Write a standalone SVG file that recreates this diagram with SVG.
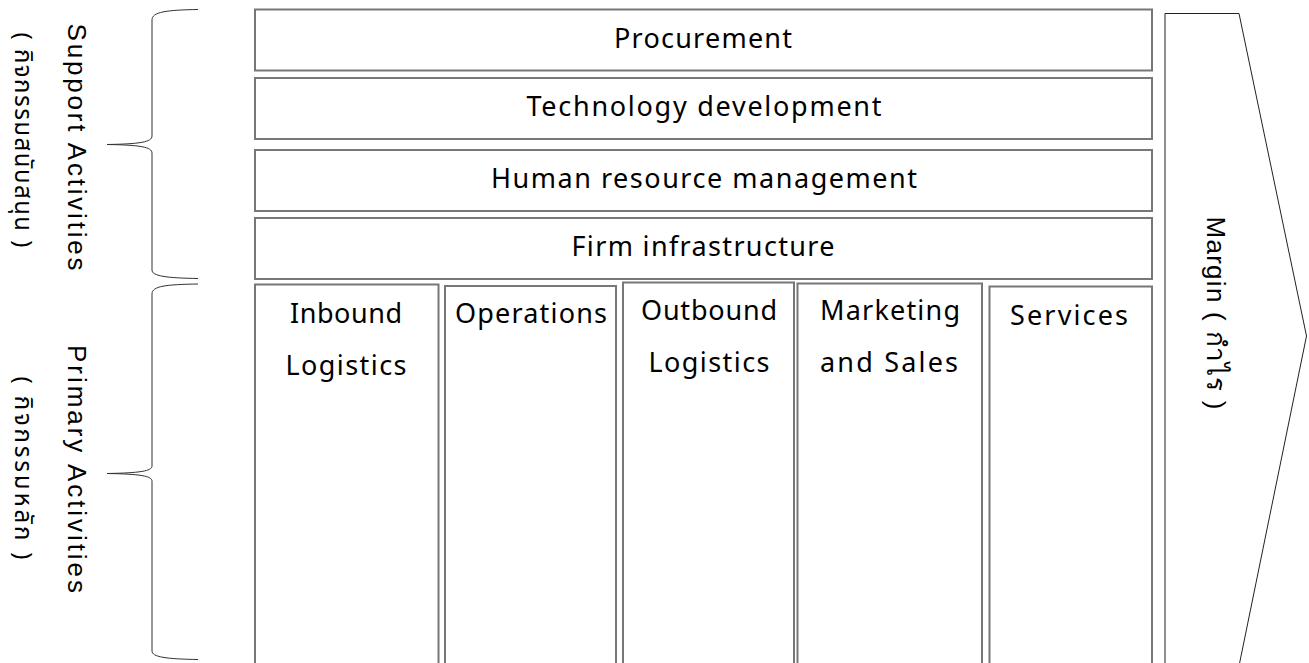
<svg xmlns="http://www.w3.org/2000/svg" width="1309" height="663" viewBox="0 0 1309 663">
<style>
.box{fill:#fff;stroke:#777;stroke-width:2}
.brace{fill:none;stroke:#333;stroke-width:1}
.lbl{font-family:"Noto Sans","Open Sans","DejaVu Sans",sans-serif;font-size:27px;fill:#000;text-anchor:middle}
.side{font-family:"Liberation Sans","Noto Sans",sans-serif;font-size:26px;fill:#000;text-anchor:middle}
.thai{font-family:"Noto Sans Thai","Noto Sans","DejaVu Sans",sans-serif;font-size:24px;fill:#000;text-anchor:middle}
.margin{fill:#fff;stroke:#222;stroke-width:1}
</style>
<rect width="1309" height="663" fill="#fff"/>
<g id="margin">
<polygon class="margin" points="1165,13.5 1239,13.5 1306.5,336 1239,666 1165,666"/>
<text class="side" font-size="24" transform="translate(1207,313) rotate(90)" textLength="193">Margin ( กำไร )</text>
</g>
<g id="procurement"><rect class="box" x="255" y="9.5" width="897" height="61"/><text class="lbl" x="703" y="48" textLength="178">Procurement</text></g>
<g id="technology"><rect class="box" x="255" y="78" width="897" height="61"/><text class="lbl" x="704" y="116" textLength="355">Technology development</text></g>
<g id="hrm"><rect class="box" x="255" y="150" width="897" height="61"/><text class="lbl" x="704" y="188" textLength="426">Human resource management</text></g>
<g id="firm"><rect class="box" x="255" y="218" width="897" height="61"/><text class="lbl" x="703" y="256" textLength="263">Firm infrastructure</text></g>
<g id="inbound"><rect class="box" x="255" y="284.5" width="183.5" height="390"/><text class="lbl" x="346" y="323" textLength="112">Inbound</text><text class="lbl" x="346" y="375" textLength="121">Logistics</text></g>
<g id="operations"><rect class="box" x="445" y="286" width="171" height="390"/><text class="lbl" x="531" y="323" textLength="152">Operations</text></g>
<g id="outbound"><rect class="box" x="623" y="282.5" width="171" height="390"/><text class="lbl" x="709" y="320" textLength="136">Outbound</text><text class="lbl" x="709" y="372" textLength="121">Logistics</text></g>
<g id="marketing"><rect class="box" x="797.5" y="283.5" width="184.5" height="390"/><text class="lbl" x="890" y="320" textLength="140">Marketing</text><text class="lbl" x="889" y="372" textLength="138">and Sales</text></g>
<g id="services"><rect class="box" x="989.5" y="286.5" width="162.5" height="390"/><text class="lbl" x="1069" y="325" textLength="118">Services</text></g>
<g id="connectors">
<path class="brace" d="M198,9.5 C166,10 152,12 152,20 V136 C152,142 140,144 107,144.5 C140,145 152,147 152,153 V270 C152,276 166,278 198,278.5"/>
<path class="brace" d="M198,284 C166,284.5 152,286 152,294 V466 C152,471 140,473 107,473.5 C140,474 152,476 152,481 V651 C152,657 166,659 198,659.5"/>
</g>
<g id="support-label">
<text class="side" transform="translate(68,147) rotate(90)" textLength="247">Support Activities</text>
<text class="thai" transform="translate(15,140) rotate(90)" textLength="215">( กิจกรรมสนับสนุน )</text>
</g>
<g id="primary-label">
<text class="side" transform="translate(68,469) rotate(90)" textLength="248">Primary Activities</text>
<text class="thai" transform="translate(15,468) rotate(90)" textLength="183">( กิจกรรมหลัก )</text>
</g>
</svg>
